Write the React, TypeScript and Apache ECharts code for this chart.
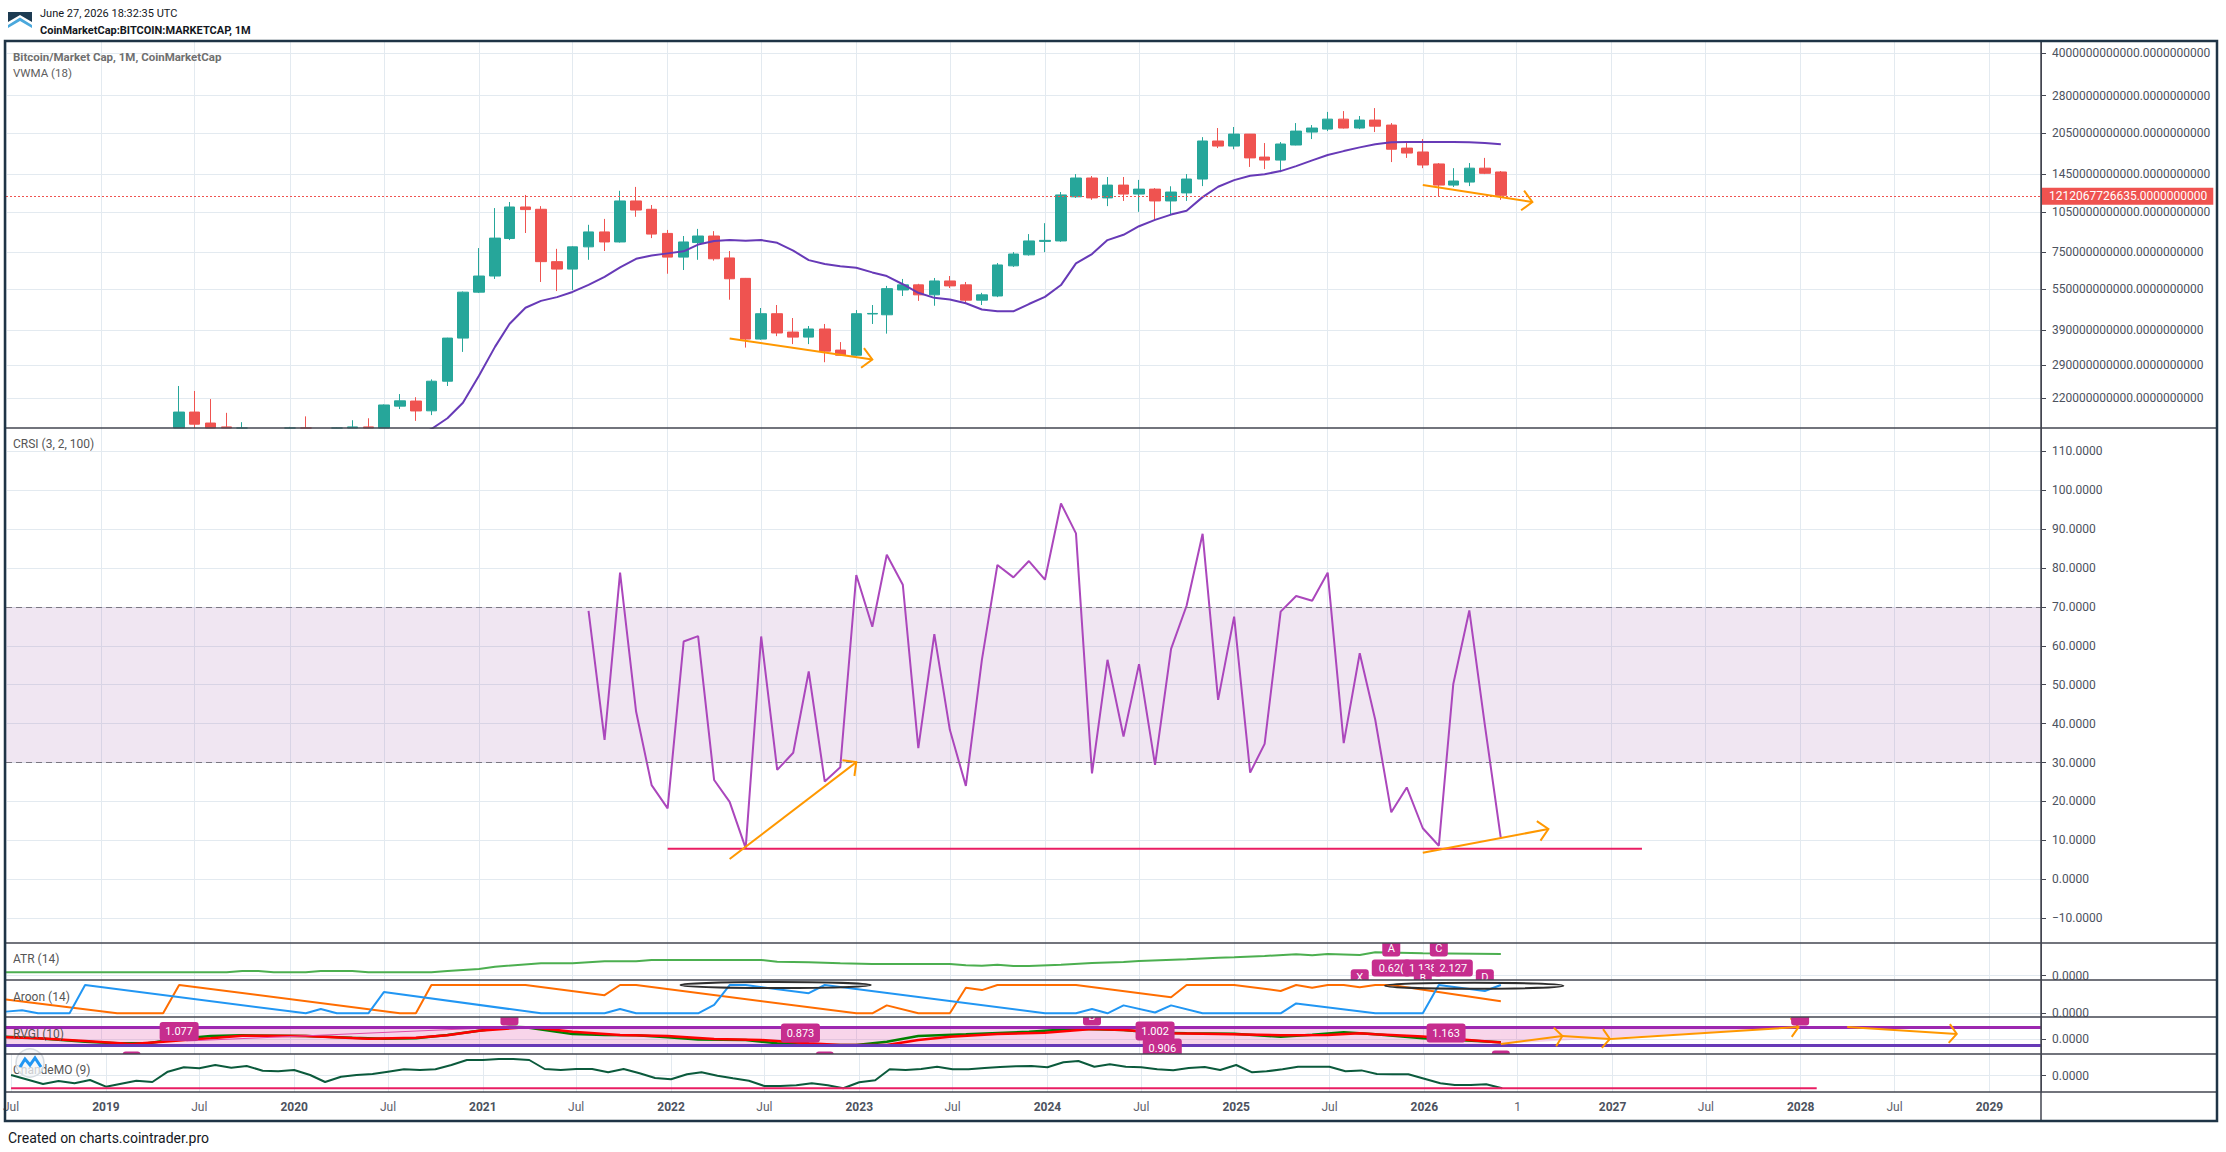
import React, { useEffect, useRef } from 'react';
import * as echarts from 'echarts';

// ---------------- helpers ----------------
const T = (s: string): number => {
  const p = s.split('-').map(Number);
  return Date.UTC(p[0], p[1] - 1, p[2] || 1);
};
const monthSeq = (first: string, n: number): string[] => {
  const p = first.split('-').map(Number);
  const base = p[0] * 12 + p[1] - 1;
  const out: string[] = [];
  for (let i = 0; i < n; i++) {
    const k = base + i;
    out.push(`${Math.floor(k / 12)}-${String((k % 12) + 1).padStart(2, '0')}`);
  }
  return out;
};
const LG = (b: number) => Math.log10(b * 1e9); // billions -> log10(market cap)

// ---------------- data (market cap in billions USD) ----------------
const candleFirstMonth = '2019-06';
const candleOpen = [143, 196, 178.7, 173, 148, 165, 137, 130, 170, 156,
  117, 160, 173, 168, 206, 215, 198, 254, 365, 537,
  615, 843, 1099, 1078, 694, 652, 786, 891, 819, 1156,
  1078, 880, 721, 815, 861, 716, 603, 362, 448, 384,
  368, 394, 330, 316, 447, 444, 547, 571, 525, 590,
  571, 502, 520, 670, 735, 823, 826, 1197, 1402, 1186,
  1321, 1225, 1277, 1156, 1237, 1390, 1914, 1834, 2028, 1672,
  1630, 1850, 2063, 2115, 2300, 2134, 2282, 2188, 1803, 1745,
  1578, 1321, 1355, 1523, 1475];
const candleHigh = [244, 234, 218.6, 194.7, 180, 170, 140, 173, 189, 168,
  172, 183, 186, 209, 228, 222, 258, 366, 540, 778,
  1089, 1146, 1216, 1107, 773, 790, 946, 994, 1259, 1301,
  1117, 906, 861, 914, 897, 759, 605, 470, 482, 432,
  404, 411, 353, 462, 482, 566, 600, 576, 605, 615,
  585, 534, 686, 752, 875, 959, 1246, 1449, 1426, 1414,
  1414, 1380, 1288, 1308, 1449, 1977, 2134, 2153, 2030, 1881,
  1897, 2225, 2188, 2444, 2461, 2361, 2524, 2225, 1881, 1945,
  1590, 1523, 1590, 1660, 1487];
const candleLow = [140, 162, 165, 140, 134, 118, 116, 124, 155, 70,
  108, 150, 160, 164, 201, 182, 191, 244, 325, 533,
  600, 832, 883, 585, 542, 547, 705, 759, 815, 1012,
  846, 627, 647, 705, 700, 504, 337, 360, 371, 347,
  347, 298, 314, 314, 411, 379, 520, 499, 479, 556,
  486, 482, 515, 664, 730, 752, 820, 1186, 1167, 1107,
  1156, 1055, 977, 1036, 1156, 1310, 1803, 1786, 1539, 1511,
  1472, 1845, 1945, 2080, 2125, 2115, 2063, 1603, 1660, 1523,
  1205, 1300, 1310, 1449, 1167];
const candleClose = [196, 177, 168, 148, 165, 137, 130, 170, 156, 117,
  160, 173, 168, 208, 215.4, 197.8, 254, 365, 537, 615,
  846, 1099, 1075, 694, 652, 786, 891, 819, 1156, 1071,
  875, 721, 819, 861, 711, 601, 362, 448, 381, 368,
  394, 327, 316, 448, 449, 553, 571, 525, 590, 566,
  502, 525, 675, 740, 826, 830, 1216, 1402, 1186, 1321,
  1225, 1277, 1156, 1246, 1390, 1914, 1834, 2028, 1660, 1630,
  1866, 2080, 2134, 2300, 2134, 2282, 2168, 1786, 1729, 1564,
  1321, 1367, 1523, 1459, 1212.067726635];

const vwmaFirstMonth = '2020-09';
const vwma = [160, 170, 186, 212,
  266, 339, 411, 471, 499, 515, 538, 571, 611, 661, 711, 731,
  744, 757, 801, 826, 832, 828, 832, 813, 761, 703, 680, 668,
  659, 634, 615, 574, 534, 512, 505, 489, 464, 457, 457, 486,
  516, 570, 684, 740, 832, 870, 935, 986, 1031, 1065, 1194, 1303,
  1377, 1428, 1448, 1486, 1550, 1626, 1701, 1758, 1814, 1862, 1893, 1898,
  1898, 1898, 1898, 1893, 1881, 1862];

const crsiFirstMonth = '2021-08';
const crsi = [69.0, 35.8, 78.8, 43.1, 24.2,
  18.2, 61.1, 62.5, 25.5, 19.9, 8.0, 62.4, 28.1, 32.5, 53.4, 25.1, 28.8,
  78.2, 64.9, 83.4, 75.7, 33.7, 63.0, 38.4, 24.0, 56.4, 80.8, 77.6, 81.8,
  77.0, 96.6, 88.9, 27.2, 56.4, 36.7, 55.3, 29.4, 59.2, 70.3, 88.8, 46.1,
  67.5, 27.4, 34.8, 68.8, 72.8, 71.6, 78.8, 35.0, 58.1, 41.0, 17.2, 23.6,
  13.1, 8.6, 50.2, 69.1, 39.7, 10.5];
const crsiLevel: [string, number][] = [['2022-01', 7.8], ['2027-03', 7.8]];
const crsiBand = [30, 70];

const atr: [string, number][] = [['2018-07', 3.4], ['2019-09', 3.4], ['2019-10', 4.7], ['2019-11', 4.7], ['2019-12', 3.4],
  ['2020-02', 3.4], ['2020-03', 4.7], ['2020-05', 4.7], ['2020-06', 3.4], ['2020-10', 3.4], ['2020-11', 4.7],
  ['2021-01', 6.7], ['2021-02', 9], ['2021-05', 12.4], ['2021-07', 12.4], ['2021-09', 14.4], ['2021-11', 14.4],
  ['2021-12', 15.7], ['2022-07', 15.7], ['2022-08', 14], ['2022-10', 13.4], ['2022-12', 12.4], ['2023-02', 11.7],
  ['2023-07', 11.7], ['2023-08', 10.4], ['2023-09', 10], ['2023-10', 11], ['2023-11', 9.7], ['2023-12', 9.7],
  ['2024-02', 11], ['2024-04', 12.7], ['2024-06', 13.7], ['2024-07', 14.7], ['2024-10', 16.4], ['2024-12', 18],
  ['2025-01', 18.4], ['2025-03', 19.7], ['2025-05', 21.4], ['2025-06', 20.4], ['2025-07', 21.7], ['2025-09', 20.7],
  ['2025-10', 23.4], ['2026-01', 22.4], ['2026-06', 21.7]];

const aroonUp: [string, number][] = [['2018-07', 49], ['2019-02', 0], ['2019-05', 0], ['2019-06', 100], ['2020-08', 0],
  ['2020-09', 0], ['2020-10', 100], ['2021-04', 100], ['2021-09', 64], ['2021-10', 100], ['2021-11', 100],
  ['2023-01', 0], ['2023-02', 0], ['2023-03', 28], ['2023-05', 0], ['2023-07', 0], ['2023-08', 90], ['2023-09', 82],
  ['2023-10', 100], ['2024-03', 100], ['2024-09', 57], ['2024-10', 100], ['2025-01', 100], ['2025-04', 79],
  ['2025-05', 100], ['2025-06', 90], ['2025-07', 100], ['2025-08', 100], ['2025-09', 92], ['2025-10', 100],
  ['2025-11', 100], ['2026-06', 43]];
const aroonDown: [string, number][] = [['2018-07', 6], ['2018-08', 11], ['2018-09', 0], ['2018-11', 0], ['2018-12', 100],
  ['2020-02', 0], ['2020-03', 15], ['2020-04', 0], ['2020-06', 0], ['2020-07', 75], ['2021-05', 0], ['2021-09', 0],
  ['2021-10', 15], ['2021-11', 0], ['2022-03', 0], ['2022-04', 30], ['2022-05', 100], ['2022-06', 100], ['2022-10', 71],
  ['2022-11', 100], ['2024-01', 0], ['2024-03', 0], ['2024-04', 15], ['2024-05', 0], ['2024-06', 28], ['2024-08', 3],
  ['2024-09', 28], ['2024-11', 0], ['2025-04', 0], ['2025-05', 35], ['2025-10', 0], ['2026-01', 0], ['2026-02', 100],
  ['2026-05', 79], ['2026-06', 100]];

const rvgi: [string, number][] = [['2018-07', 2.6], ['2018-09', 1], ['2018-12', -2.4], ['2019-02', -4], ['2019-04', -4],
  ['2019-06', 0.5], ['2019-08', 3.3], ['2019-10', 4], ['2020-02', 3.3], ['2020-05', 1.6], ['2020-07', 0.6], ['2020-09', 1],
  ['2020-11', 4.3], ['2021-01', 8.6], ['2021-03', 12.6], ['2021-04', 12], ['2021-07', 5.3], ['2021-09', 4.3], ['2021-11', 4],
  ['2022-01', 2], ['2022-03', -0.2], ['2022-06', -0.7], ['2022-08', -4], ['2022-10', -5.7], ['2023-01', -5.7],
  ['2023-03', -2.4], ['2023-05', 3.3], ['2023-08', 5], ['2023-12', 7.6], ['2024-03', 10.6], ['2024-06', 9.3],
  ['2024-08', 6.6], ['2024-10', 6], ['2025-01', 5.6], ['2025-04', 2.6], ['2025-06', 4.6], ['2025-08', 7], ['2025-10', 5],
  ['2026-01', 1], ['2026-06', -3]];
const rvgiSignal: [string, number][] = [['2018-07', 2], ['2018-09', 1], ['2018-12', -1.8], ['2019-03', -4.7], ['2019-05', -2.4],
  ['2019-07', 0], ['2019-08', 1], ['2019-10', 3.6], ['2020-02', 3.3], ['2020-06', 0.6], ['2020-09', 1.6], ['2020-11', 4],
  ['2021-01', 8.6], ['2021-04', 12], ['2021-05', 11], ['2021-07', 7.6], ['2021-10', 4.3], ['2022-01', 3.3], ['2022-04', 0.3],
  ['2022-07', -0.7], ['2022-10', -4], ['2022-12', -5.7], ['2023-03', -5.7], ['2023-05', -0.7], ['2023-07', 2.6],
  ['2023-10', 5.3], ['2024-01', 6.6], ['2024-04', 10.3], ['2024-06', 9.3], ['2024-09', 6], ['2024-12', 5.3],
  ['2025-04', 4], ['2025-07', 4.3], ['2025-09', 6], ['2025-10', 5], ['2026-01', 2.8], ['2026-06', -3.3]];
const rvgiBands = [12.3, -5.7];
const rvgiBandEnd = '2026-06';
const rvgiPatternLine: [string, number][] = [['2019-06-15', -1.7], ['2021-03', 12.3]];
const rvgiTriangle: [string, number][] = [['2026-06', 12.3], ['2027-12-29', 12.3], ['2026-06', -4.7]];

const chande: [string, number][] = [['2018-07', 0.7], ['2018-09', -8.3], ['2018-10', -5.3], ['2018-11', -7.6], ['2018-12', -4.3],
  ['2019-01', -11], ['2019-03', -5], ['2019-04', -6.3], ['2019-05', 4], ['2019-06', 8.4], ['2019-07', 7.4], ['2019-08', 10.7],
  ['2019-09', 8], ['2019-10', 9.7], ['2019-11', 5], ['2019-12', 4.4], ['2020-01', 5.7], ['2020-02', 0.7], ['2020-03', -6.3],
  ['2020-04', -1], ['2020-05', 0.7], ['2020-06', 1.7], ['2020-07', 4], ['2020-08', 6.4], ['2020-09', 5.7], ['2020-10', 6.4],
  ['2020-11', 10.7], ['2020-12', 15.7], ['2021-01', 15.7], ['2021-02', 16.7], ['2021-03', 16.7], ['2021-04', 15.7],
  ['2021-05', 6.7], ['2021-06', 5.7], ['2021-07', 6.7], ['2021-08', 6.7], ['2021-09', 3.4], ['2021-10', 6.7], ['2021-11', 2.4],
  ['2021-12', -2.3], ['2022-01', -3.6], ['2022-02', 1.4], ['2022-03', 3.4], ['2022-04', 0], ['2022-05', -2.6], ['2022-06', -5],
  ['2022-07', -10.3], ['2022-08', -10.3], ['2022-09', -9.6], ['2022-10', -7.6], ['2022-11', -9.6], ['2022-12', -12.6],
  ['2023-01', -6.6], ['2023-02', -4.6], ['2023-03', 6.4], ['2023-04', 5.7], ['2023-05', 6.7], ['2023-06', 9], ['2023-07', 6.4],
  ['2023-08', 6.4], ['2023-09', 7.7], ['2023-10', 8.7], ['2023-11', 9.4], ['2023-12', 9.7], ['2024-01', 8.4], ['2024-02', 13.4],
  ['2024-03', 14.7], ['2024-04', 9], ['2024-05', 11.4], ['2024-06', 9], ['2024-07', 8.4], ['2024-08', 6.4], ['2024-09', 5.4],
  ['2024-10', 7.7], ['2024-11', 8.7], ['2024-12', 5.7], ['2025-01', 10.7], ['2025-02', 3.4], ['2025-03', 4.4], ['2025-04', 6.4],
  ['2025-05', 9], ['2025-06', 9], ['2025-07', 9], ['2025-08', 4.4], ['2025-09', 5.3], ['2025-10', 1.7], ['2025-11', 1.5],
  ['2025-12', 1.4], ['2026-01', -3], ['2026-02', -7.6], ['2026-03', -9.3], ['2026-04', -9.3], ['2026-05', -8.6], ['2026-06', -12.6]];
const chandeLevel: [string, number][] = [['2018-07', -12.6], ['2028-02', -12.6]];

// drawings: [start, value, end, value]
const mainArrows: [string, number, string, number][] = [['2022-05', 364, '2023-02', 305], ['2026-01', 1321, '2026-08', 1146]];
const crsiArrows: [string, number, string, number][] = [['2022-05', 5.2, '2023-01', 30.1], ['2026-01', 6.8, '2026-09', 12.9]];
const rvgiArrows: [string, number, string, number][] = [['2026-06', -4.7, '2026-09-28', 3.3], ['2026-09-28', 3.3, '2026-12-29', 0.3],
  ['2026-12-29', 0.3, '2027-12-29', 12.3], ['2028-04-01', 12.3, '2028-10-30', 5.3]];
const aroonEllipses: [string, string, number][] = [['2022-01-26', '2023-01-29', 100], ['2025-10-20', '2026-09-30', 97.5]];
const rvgiLabels = [
  { t: '2019-06', v: 7.8, text: '1.077', size: 11 }, { t: '2022-09-15', v: 6.3, text: '0.873', size: 11 },
  { t: '2024-08', v: 8.3, text: '1.002', size: 11 }, { t: '2024-08-15', v: -8.7, text: '0.906', size: 11 },
  { t: '2026-02-15', v: 6.3, text: '1.163', size: 11 },
  { t: '2021-03', v: 23.3, text: '', size: 11 }, { t: '2024-04', v: 23.3, text: 'B', size: 11 }, { t: '2028-01', v: 23.3, text: '', size: 11 },
  { t: '2019-03', v: -21.7, text: '', size: 11 }, { t: '2022-11', v: -21.7, text: '', size: 11 }, { t: '2026-06', v: -20.7, text: '', size: 11 },
];
const atrLabels = [
  { t: '2025-11', v: 7.6, text: '0.62(', size: 11 }, { t: '2026-01', v: 7.6, text: '1.138', size: 11 }, { t: '2026-03', v: 7.6, text: '2.127', size: 11 },
  { t: '2025-11', v: 27.7, text: 'A', size: 11 }, { t: '2026-02', v: 27.7, text: 'C', size: 11 },
  { t: '2025-09', v: -2, text: 'X', size: 11 }, { t: '2026-05', v: -2, text: 'D', size: 11 }, { t: '2026-01', v: -2.8, text: 'B', size: 10 },
];

const currentPriceB = 1212.067726635;
const currentPriceLabel = '1212067726635.0000000000';
const priceTicksB = [4000, 2800, 2050, 1450, 1050, 750, 550, 390, 290, 220];
const priceTickLabels = ['4000000000000.0000000000', '2800000000000.0000000000', '2050000000000.0000000000',
  '1450000000000.0000000000', '1050000000000.0000000000', '750000000000.0000000000', '550000000000.0000000000',
  '390000000000.0000000000', '290000000000.0000000000', '220000000000.0000000000'];
const priceAxisB = [171.4, 4399];
const crsiTicks = [-10, 0, 10, 20, 30, 40, 50, 60, 70, 80, 90, 100, 110];
const crsiTickLabels = ['\u221210.0000', '0.0000', '10.0000', '20.0000', '30.0000', '40.0000', '50.0000', '60.0000',
  '70.0000', '80.0000', '90.0000', '100.0000', '110.0000'];
const xTicks = ['2018-07', '2019-01', '2019-07', '2020-01', '2020-07', '2021-01', '2021-07', '2022-01', '2022-07',
  '2023-01', '2023-07', '2024-01', '2024-07', '2025-01', '2025-07', '2026-01', '2026-07', '2027-01', '2027-07',
  '2028-01', '2028-07', '2029-01'];
const xTickLabels = ['Jul', '2019', 'Jul', '2020', 'Jul', '2021', 'Jul', '2022', 'Jul', '2023', 'Jul', '2024', 'Jul',
  '2025', 'Jul', '2026', '1', '2027', 'Jul', '2028', 'Jul', '2029'];
const xRange = ['2018-07-01', '2029-04-11'];

// ---------------- styles ----------------
const UP = '#26a69a';
const DOWN = '#ef5350';
const GRID_C = '#e3eaf0';
const AXIS_C = '#434651';
const LABEL_C = '#4c525e';
const PINK = '#c62d8e';
const ORANGE = '#ff9800';
const FONT = 'Roboto, "Noto Sans", sans-serif';

const panels = [
  { top: 42, height: 386 },
  { top: 428, height: 515 },
  { top: 943, height: 37 },
  { top: 980, height: 37 },
  { top: 1017, height: 37 },
  { top: 1054, height: 38 },
];

function buildOption() {
  const xTickTimes = xTicks.map(T);
  const priceTicksLog = priceTicksB.map(LG);
  const yRanges = [[LG(priceAxisB[0]), LG(priceAxisB[1])], [-16.4, 116], [-4.3, 32.7], [-13, 117.7], [-14.7, 22.3], [-16.3, 21.7]];
  const yTickVals = [priceTicksLog, crsiTicks, [0], [0], [0], [0]];
  const yFmt = (i: number) => (v: number) => {
    if (i === 0) {
      const k = priceTicksLog.findIndex((x) => Math.abs(x - v) < 1e-6);
      return k >= 0 ? priceTickLabels[k] : '';
    }
    if (i === 1) {
      const k = crsiTicks.findIndex((x) => Math.abs(x - v) < 1e-6);
      return k >= 0 ? crsiTickLabels[k] : '';
    }
    return '0.0000';
  };
  const xFmt = (v: number) => {
    let k = -1;
    xTickTimes.forEach((t, j) => { if (Math.abs(t - v) < 86400000) k = j; });
    if (k < 0) return '';
    const s = xTickLabels[k];
    return /^\d{4}$/.test(s) ? `{y|${s}}` : `{m|${s}}`;
  };

  const pts = (arr: [string, number][]) => arr.map(([d, v]) => [T(d), v]);
  const seqPts = (first: string, vals: number[], f = (x: number) => x) =>
    monthSeq(first, vals.length).map((m, i) => [T(m), f(vals[i])]);

  // candles: the part below the panel floor is cut at the floor (as the reference clips it)
  const floorB = priceAxisB[0];
  const cut = (b: number) => LG(Math.max(b, floorB));
  const candleMonths = monthSeq(candleFirstMonth, candleOpen.length);
  const candleData = candleMonths
    .map((m, i) => ({ m, i }))
    .filter(({ i }) => candleHigh[i] > floorB)
    .map(({ m, i }) => [T(m), cut(candleOpen[i]), cut(candleClose[i]), cut(candleLow[i]), cut(candleHigh[i])]);
  const candleColors = candleMonths
    .map((m, i) => ({ i }))
    .filter(({ i }) => candleHigh[i] > floorB)
    .map(({ i }) => (candleClose[i] >= candleOpen[i] ? UP : DOWN));

  const arrowSeries = (idx: number, arr: [string, number, string, number][], f = (x: number) => x, L = 14, ang = Math.PI / 4) => ({
    type: 'custom', xAxisIndex: idx, yAxisIndex: idx, clip: true, z: 6,
    data: arr.map(([a, v1, b, v2]) => [T(a), f(v1), T(b), f(v2)]),
    encode: { x: [0, 2], y: [1, 3] },
    renderItem: (params: any, api: any) => {
      const p1 = api.coord([api.value(0), api.value(1)]);
      const p2 = api.coord([api.value(2), api.value(3)]);
      const a = Math.atan2(p2[1] - p1[1], p2[0] - p1[0]);
      const w1 = [p2[0] - L * Math.cos(a - ang), p2[1] - L * Math.sin(a - ang)];
      const w2 = [p2[0] - L * Math.cos(a + ang), p2[1] - L * Math.sin(a + ang)];
      return {
        type: 'group', children: [
          { type: 'line', shape: { x1: p1[0], y1: p1[1], x2: p2[0], y2: p2[1] }, style: { stroke: ORANGE, lineWidth: 2 } },
          { type: 'polyline', shape: { points: [w1, p2, w2] }, style: { stroke: ORANGE, lineWidth: 2, fill: 'none' } },
        ],
      };
    },
  });

  const labelSeries = (idx: number, list: { t: string; v: number; text: string; size: number }[], h: number) => ({
    type: 'custom', xAxisIndex: idx, yAxisIndex: idx, clip: true, z: 8,
    data: list.map((l) => [T(l.t), l.v]),
    encode: { x: 0, y: 1 },
    renderItem: (params: any, api: any) => {
      const item = list[params.dataIndex];
      const p = api.coord([api.value(0), api.value(1)]);
      const w = Math.max(18, item.text.length * 6.2 + 8);
      return {
        type: 'group', children: [
          { type: 'rect', shape: { x: p[0] - w / 2, y: p[1] - h / 2, width: w, height: h, r: 3 }, style: { fill: PINK } },
          { type: 'text', style: { text: item.text, x: p[0], y: p[1], fill: '#ffffff', font: `${item.size}px ${FONT}`, align: 'center', verticalAlign: 'middle' } },
        ],
      };
    },
  });

  const lineS = (idx: number, data: any[], color: string, width: number, extra: any = {}) => ({
    type: 'line', xAxisIndex: idx, yAxisIndex: idx, data, symbol: 'none', showSymbol: false,
    lineStyle: { color, width }, itemStyle: { color }, z: 3, ...extra,
  });

  const series: any[] = [
    {
      type: 'candlestick', xAxisIndex: 0, yAxisIndex: 0,
      data: candleData.map((d, k) => ({
        value: d,
        itemStyle: { color: candleColors[k], color0: candleColors[k], borderColor: candleColors[k], borderColor0: candleColors[k] },
      })),
      encode: { x: 0, y: [1, 2, 3, 4] }, barWidth: 11, clip: true,
      itemStyle: { color: UP, color0: DOWN, borderColor: UP, borderColor0: DOWN, borderWidth: 1 },
      markLine: {
        silent: true, symbol: 'none',
        lineStyle: { color: DOWN, type: [2, 2], width: 1 },
        label: {
          show: true, position: 'end', formatter: currentPriceLabel, backgroundColor: DOWN, color: '#ffffff',
          fontSize: 12, fontFamily: FONT, padding: [3, 6, 2, 7], distance: 1,
        },
        data: [{ yAxis: LG(currentPriceB) }],
      },
    },
    lineS(0, seqPts(vwmaFirstMonth, vwma, LG), '#673ab7', 2),
    arrowSeries(0, mainArrows, LG),

    lineS(1, seqPts(crsiFirstMonth, crsi), '#ab47bc', 2, {
      markArea: { silent: true, itemStyle: { color: 'rgba(149,76,160,0.14)' }, data: [[{ yAxis: crsiBand[0] }, { yAxis: crsiBand[1] }]] },
      markLine: {
        silent: true, symbol: 'none', label: { show: false },
        lineStyle: { color: '#7b7882', type: [6, 4], width: 1 },
        data: [{ yAxis: crsiBand[0] }, { yAxis: crsiBand[1] }],
      },
    }),
    lineS(1, pts(crsiLevel), '#e91e63', 2),
    arrowSeries(1, crsiArrows),

    lineS(2, pts(atr), '#4caf50', 2),

    lineS(3, pts(aroonUp), '#ff6d00', 2),
    lineS(3, pts(aroonDown), '#2196f3', 2),
    {
      type: 'custom', xAxisIndex: 3, yAxisIndex: 3, clip: true, z: 7,
      data: aroonEllipses.map(([a, b, v]) => [T(a), T(b), v]),
      encode: { x: [0, 1], y: 2 },
      renderItem: (params: any, api: any) => {
        const a = api.coord([api.value(0), api.value(2)]);
        const b = api.coord([api.value(1), api.value(2)]);
        return {
          type: 'ellipse',
          shape: { cx: (a[0] + b[0]) / 2, cy: a[1], rx: Math.abs(b[0] - a[0]) / 2, ry: 3 },
          style: { fill: 'none', stroke: '#2e2e2e', lineWidth: 2 },
        };
      },
    },

    {
      type: 'custom', xAxisIndex: 4, yAxisIndex: 4, clip: true, z: 1,
      data: [rvgiTriangle.map(([d, v]) => [T(d), v]).flat()],
      encode: { x: [0, 2, 4], y: [1, 3, 5] },
      renderItem: (params: any, api: any) => {
        const p = [0, 1, 2].map((k) => api.coord([api.value(2 * k), api.value(2 * k + 1)]));
        return { type: 'polygon', shape: { points: p }, style: { fill: 'rgba(224,64,160,0.22)' } };
      },
    },
    lineS(4, pts(rvgi), '#008000', 2.5, {
      markArea: {
        silent: true, itemStyle: { color: 'rgba(224,64,160,0.22)' },
        data: [[{ xAxis: T(xRange[0]), yAxis: rvgiBands[0] }, { xAxis: T(rvgiBandEnd), yAxis: rvgiBands[1] }]],
      },
      markLine: {
        silent: true, symbol: 'none', label: { show: false },
        data: [
          { yAxis: rvgiBands[0], lineStyle: { color: '#9c27b0', width: 3, type: 'solid' } },
          { yAxis: rvgiBands[1], lineStyle: { color: '#673ab7', width: 3, type: 'solid' } },
        ],
      },
    }),
    lineS(4, pts(rvgiSignal), '#ff0000', 2.5),
    lineS(4, pts(rvgiPatternLine), '#e04aa6', 1),
    arrowSeries(4, rvgiArrows, (x) => x, 12, 0.9),
    labelSeries(4, rvgiLabels, 19),
    labelSeries(2, atrLabels, 17),

    lineS(5, pts(chande), '#0b5a3c', 2),
    lineS(5, pts(chandeLevel), '#e91e63', 2),
  ];

  const txt = (x: number, y: number, text: string, font: string, fill: string) => ({
    type: 'text', x, y, z: 50, silent: true,
    style: { text, font, fill, verticalAlign: 'middle', align: 'left' },
  });
  const hline = (y: number) => ({ type: 'line', z: 55, silent: true, shape: { x1: 6, y1: y, x2: 2216, y2: y }, style: { stroke: AXIS_C, lineWidth: 1.5 } });

  const graphic: any[] = [
    { type: 'polygon', z: 50, shape: { points: [[8, 12], [32, 12], [32, 22], [20, 15], [8, 22]] }, style: { fill: '#1d3b52' } },
    { type: 'polygon', z: 50, shape: { points: [[8, 28], [8, 25], [20, 17.5], [32, 25], [32, 28], [20, 21]] }, style: { fill: '#4aa8dc' } },
    txt(40, 13, 'June 27, 2026 18:32:35 UTC', `11px ${FONT}`, '#131722'),
    txt(40, 30, 'CoinMarketCap:BITCOIN:MARKETCAP, 1M', `bold 11px ${FONT}`, '#131722'),
    txt(13, 57, 'Bitcoin/Market Cap, 1M, CoinMarketCap', `bold 11.5px ${FONT}`, '#6f6f6f'),
    txt(13, 73, 'VWMA (18)', `11.5px ${FONT}`, '#5e5e5e'),
    txt(13, 444, 'CRSI (3, 2, 100)', `12px ${FONT}`, '#555555'),
    txt(13, 959, 'ATR (14)', `12px ${FONT}`, '#555555'),
    txt(13, 997, 'Aroon (14)', `12px ${FONT}`, '#555555'),
    txt(13, 1034, 'RVGI (10)', `12px ${FONT}`, '#555555'),
    txt(13, 1070, 'ChandeMO (9)', `12px ${FONT}`, '#555555'),
    { type: 'circle', z: 52, shape: { cx: 30, cy: 1063, r: 14 }, style: { fill: 'rgba(244,246,248,0.75)', stroke: '#d5dbe1', lineWidth: 1.5 } },
    { type: 'polyline', z: 53, shape: { points: [[20, 1067], [25, 1059], [30, 1065], [35, 1058], [41, 1067]] }, style: { stroke: '#2196f3', lineWidth: 3, fill: 'none' } },
    hline(428), hline(943), hline(980), hline(1017), hline(1054), hline(1092),
    { type: 'line', z: 55, silent: true, shape: { x1: 2041, y1: 42, x2: 2041, y2: 1121 }, style: { stroke: AXIS_C, lineWidth: 1.5 } },
    { type: 'rect', z: 60, silent: true, shape: { x: 5, y: 41, width: 2212, height: 1080 }, style: { fill: 'none', stroke: '#1f3446', lineWidth: 2.5 } },
    txt(8, 1138, 'Created on charts.cointrader.pro', `14px ${FONT}`, '#131722'),
  ];

  return {
    animation: false,
    backgroundColor: '#ffffff',
    textStyle: { fontFamily: FONT },
    grid: panels.map((p) => ({ left: 6, right: 185, top: p.top, height: p.height, containLabel: false })),
    xAxis: panels.map((p, i) => ({
      type: 'value', gridIndex: i, min: T(xRange[0]), max: T(xRange[1]),
      axisLine: { show: false },
      axisTick: { show: false, customValues: xTickTimes },
      axisLabel: {
        show: i === 5, customValues: xTickTimes, margin: 9, formatter: xFmt, hideOverlap: false,
        rich: {
          y: { fontWeight: 'bold', fontSize: 12, color: LABEL_C, fontFamily: FONT },
          m: { fontSize: 12, color: '#5d606b', fontFamily: FONT },
        },
      },
      splitLine: { show: true, lineStyle: { color: GRID_C, width: 1 } },
    })),
    yAxis: panels.map((p, i) => ({
      type: 'value', gridIndex: i, position: 'right', min: yRanges[i][0], max: yRanges[i][1],
      axisLine: { show: true, lineStyle: { color: AXIS_C, width: 1 } },
      axisTick: { show: true, length: 5, customValues: yTickVals[i], lineStyle: { color: AXIS_C } },
      axisLabel: { show: true, customValues: yTickVals[i], formatter: yFmt(i), color: LABEL_C, fontSize: 12, fontFamily: FONT, margin: 11 },
      splitLine: { show: true, lineStyle: { color: GRID_C, width: 1 } },
    })),
    series,
    graphic,
  };
}

export default function App() {
  const ref = useRef<HTMLDivElement>(null);
  useEffect(() => {
    if (!ref.current) return;
    const chart = echarts.init(ref.current, null, { renderer: 'svg', width: 2226, height: 1152 });
    chart.setOption(buildOption() as any);
    return () => chart.dispose();
  }, []);
  return (
    <div
      ref={ref}
      style={{ position: 'fixed', left: 0, top: 0, width: 2226, height: 1152, background: '#ffffff' }}
    />
  );
}
